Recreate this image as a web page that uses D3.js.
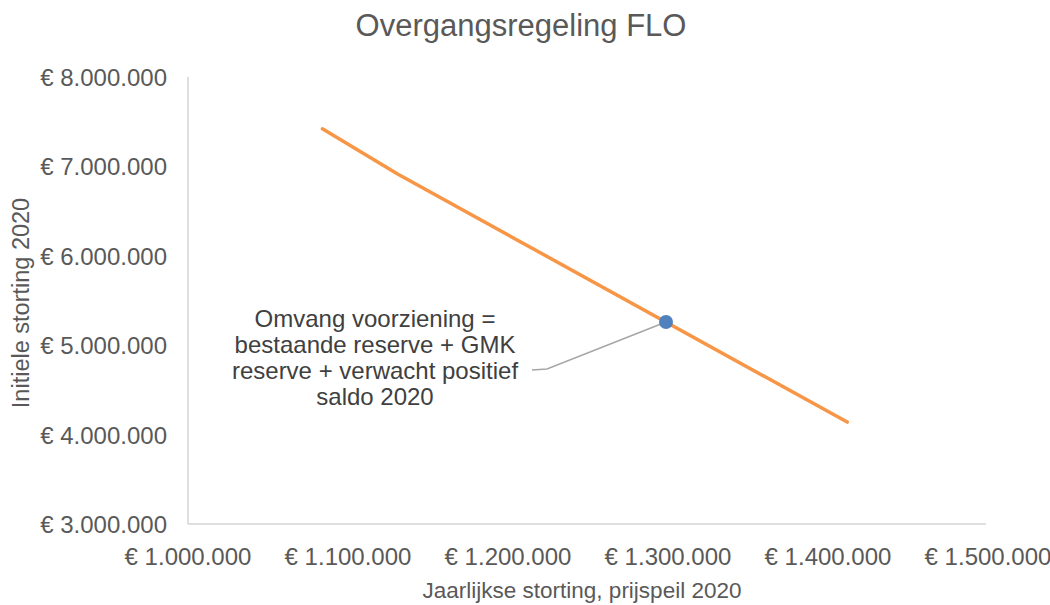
<!DOCTYPE html>
<html>
<head>
<meta charset="utf-8">
<style>
  body { margin: 0; background: #fff; }
  text { font-family: "Liberation Sans", Arial, sans-serif; fill: #595959; }
</style>
</head>
<body>
<svg width="1050" height="605"></svg>
<script src="https://d3js.org/d3.v7.min.js"></script>
<script>

// jaarlijkse storting vs initiele storting
var lineX = [1084000, 1131000, 1412000];
var lineY = [7420000, 6915000, 4140000];

// omvang voorziening
var pointX = [1298750];
var pointY = [5260000];

var xTicks = [1000000, 1100000, 1200000, 1300000, 1400000, 1500000];
var yTicks = [3000000, 4000000, 5000000, 6000000, 7000000, 8000000];

var noteLines = ["Omvang voorziening =", "bestaande reserve + GMK", "reserve + verwacht positief", "saldo 2020"];

var svg = d3.select("svg");

var x = d3.scaleLinear().domain([1000000, 1500000]).range([188, 988]);
var y = d3.scaleLinear().domain([3000000, 8000000]).range([524, 77]);

var fmt = function(v) { return "€ " + d3.format(",")(v).replace(/,/g, "."); };

// title
svg.append("text")
    .attr("x", 521).attr("y", 36)
    .attr("text-anchor", "middle")
    .style("font-size", "31px")
    .text("Overgangsregeling FLO");

// axes lines
svg.append("line")
    .attr("x1", x(1000000)).attr("x2", x(1000000))
    .attr("y1", y(8000000)).attr("y2", y(3000000))
    .attr("stroke", "#bfbfbf").attr("stroke-width", 1);
svg.append("line")
    .attr("x1", x(1000000)).attr("x2", x(1500000) - 2)
    .attr("y1", y(3000000)).attr("y2", y(3000000))
    .attr("stroke", "#bfbfbf").attr("stroke-width", 1);

// tick labels
svg.selectAll(".ylab").data(yTicks).enter().append("text")
    .attr("class", "ylab")
    .attr("x", 167)
    .attr("y", function(d) { return y(d) + 9; })
    .attr("text-anchor", "end")
    .style("font-size", "24px")
    .text(fmt);

svg.selectAll(".xlab").data(xTicks).enter().append("text")
    .attr("class", "xlab")
    .attr("x", function(d) { return x(d); })
    .attr("y", 565)
    .attr("text-anchor", "middle")
    .style("font-size", "24px")
    .text(fmt);

// axis titles
svg.append("text")
    .attr("x", 582).attr("y", 598)
    .attr("text-anchor", "middle")
    .style("font-size", "22.5px")
    .text("Jaarlijkse storting, prijspeil 2020");

svg.append("text")
    .attr("transform", "translate(29,303) rotate(-90)")
    .attr("text-anchor", "middle")
    .style("font-size", "23.5px")
    .text("Initiele storting 2020");

// line
var line = d3.line()
    .x(function(d) { return x(d[0]); })
    .y(function(d) { return y(d[1]); });

svg.append("path")
    .datum(d3.zip(lineX, lineY))
    .attr("d", line)
    .attr("fill", "none")
    .attr("stroke", "#f79646")
    .attr("stroke-width", 3.5)
    .attr("stroke-linecap", "round")
    .attr("stroke-linejoin", "round");

// leader line
var px = x(pointX[0]), py = y(pointY[0]);
svg.append("polyline")
    .attr("points", [[532, 370], [547, 369], [px, py]].map(function(p) { return p.join(","); }).join(" "))
    .attr("fill", "none")
    .attr("stroke", "#a6a6a6")
    .attr("stroke-width", 1.5);

// point
svg.selectAll(".pt").data(d3.zip(pointX, pointY)).enter().append("circle")
    .attr("class", "pt")
    .attr("cx", function(d) { return x(d[0]); })
    .attr("cy", function(d) { return y(d[1]); })
    .attr("r", 7)
    .attr("fill", "#4f81bd");

// annotation
svg.append("text")
    .attr("x", 375).attr("y", 327)
    .attr("text-anchor", "middle")
    .style("font-size", "24px")
    .style("fill", "#404040")
    .selectAll("tspan").data(noteLines).enter().append("tspan")
    .attr("x", 375)
    .attr("dy", function(d, i) { return i ? 26 : 0; })
    .text(function(d) { return d; });

</script>
</body>
</html>
